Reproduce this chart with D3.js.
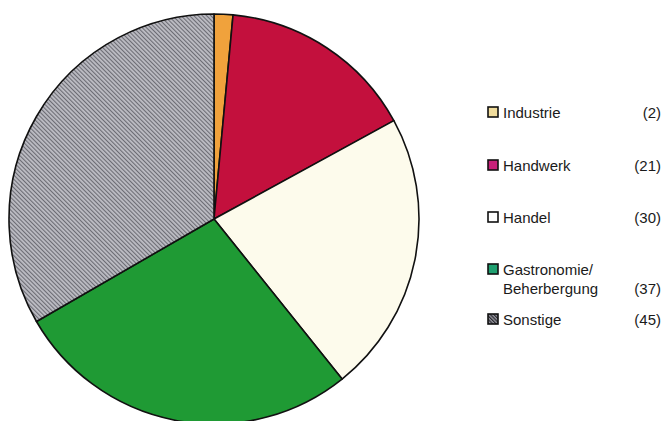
<!DOCTYPE html>
<html>
<head>
<meta charset="utf-8">
<script src="https://cdn.jsdelivr.net/npm/d3@7"></script>
<style>
  body { margin: 0; background: #fff; }
  text { font-family: "Liberation Sans", Arial, sans-serif; fill: #1a1a1a; }
</style>
</head>
<body>
<script>
// Chart data
var categories = ["Industrie", "Handwerk", "Handel", "Gastronomie/\nBeherbergung", "Sonstige"];
var values = [2, 21, 30, 37, 45];
var valueLabels = ["(2)", "(21)", "(30)", "(37)", "(45)"];

var svgWidth = 664;
var svgHeight = 421;

var sliceColors = ["#f0a23c", "#c3103d", "#fdfbec", "#1f9a34", "url(#hatch)"];
var swatchColors = ["#f0dc9c", "#c8207a", "#ffffff", "#1fa070", "url(#hatchDark)"];

var svg = d3.select("body")
  .append("svg")
  .attr("width", svgWidth)
  .attr("height", svgHeight);

// hatch patterns for "Sonstige"
var defs = svg.append("defs");
var hatch = defs.append("pattern")
  .attr("id", "hatch")
  .attr("patternUnits", "userSpaceOnUse")
  .attr("width", 3)
  .attr("height", 3)
  .attr("patternTransform", "rotate(-45)");
hatch.append("rect").attr("width", 3).attr("height", 3).attr("fill", "#bdbdc4");
hatch.append("rect").attr("width", 1.1).attr("height", 3).attr("fill", "#6c6c74");

var hatchDark = defs.append("pattern")
  .attr("id", "hatchDark")
  .attr("patternUnits", "userSpaceOnUse")
  .attr("width", 2.5)
  .attr("height", 2.5)
  .attr("patternTransform", "rotate(-45)");
hatchDark.append("rect").attr("width", 2.5).attr("height", 2.5).attr("fill", "#9a9aa2");
hatchDark.append("rect").attr("width", 1.2).attr("height", 2.5).attr("fill", "#2a2a30");

// pie
var radius = 205;
var pieGroup = svg.append("g")
  .attr("transform", "translate(214, 219)");

var pie = d3.pie().sort(null).value(d => d);
var arc = d3.arc().innerRadius(0).outerRadius(radius);

pieGroup.selectAll("path")
  .data(pie(values))
  .enter()
  .append("path")
  .attr("d", arc)
  .attr("fill", (d, i) => sliceColors[i])
  .attr("stroke", "#111")
  .attr("stroke-width", 1.6)
  .attr("stroke-linejoin", "round");

// legend rows
var rowY = [113, 166, 218, 270, 320];

var legend = svg.append("g");
var rows = legend.selectAll("g")
  .data(categories)
  .enter()
  .append("g")
  .attr("transform", (d, i) => "translate(0," + rowY[i] + ")");

rows.append("rect")
  .attr("x", 488)
  .attr("y", -6)
  .attr("width", 10)
  .attr("height", 10)
  .attr("fill", (d, i) => swatchColors[i])
  .attr("stroke", "#111")
  .attr("stroke-width", 1.6);

rows.append("text")
  .attr("x", 503)
  .attr("y", 5)
  .style("font-size", "15px")
  .selectAll("tspan")
  .data(d => d.split("\n"))
  .enter()
  .append("tspan")
  .attr("x", 503)
  .attr("dy", (d, i) => i === 0 ? 0 : 19)
  .text(d => d);

rows.append("text")
  .attr("x", 661)
  .attr("y", (d, i) => i === 3 ? 24 : 5)
  .attr("text-anchor", "end")
  .style("font-size", "15px")
  .text((d, i) => valueLabels[i]);
</script>
</body>
</html>
